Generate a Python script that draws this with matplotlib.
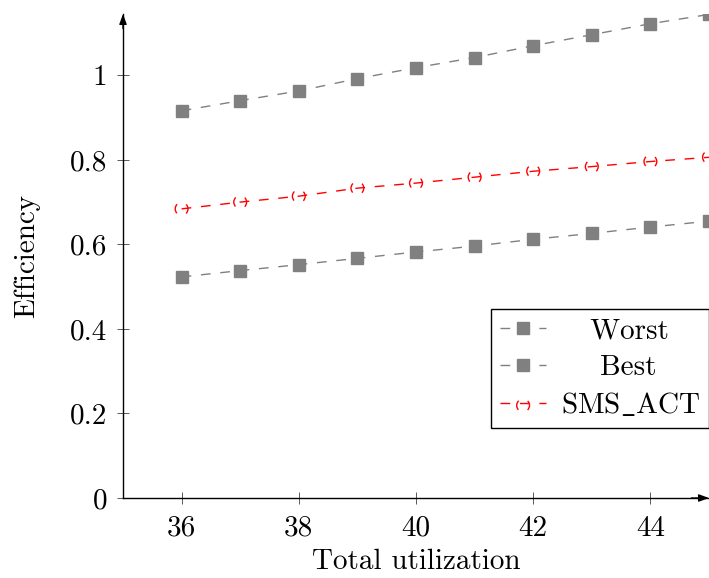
import numpy as np
import matplotlib
matplotlib.use('Agg')
import matplotlib.pyplot as plt
from matplotlib.legend_handler import HandlerTuple

# data
utilization = [36, 37, 38, 39, 40, 41, 42, 43, 44, 45]
worst = [0.916, 0.940, 0.963, 0.992, 1.018, 1.042, 1.070, 1.096, 1.122, 1.144]
best = [0.523, 0.538, 0.552, 0.567, 0.582, 0.596, 0.612, 0.626, 0.641, 0.655]
sms_act = [0.684, 0.700, 0.714, 0.733, 0.745, 0.759, 0.773, 0.784, 0.796, 0.806]

xticks = [36, 38, 40, 42, 44]
yticks = [0, 0.2, 0.4, 0.6, 0.8, 1]
ytick_labels = ['0', '0.2', '0.4', '0.6', '0.8', '1']

plt.rcParams['font.family'] = ['cmr10', 'DejaVu Serif']
plt.rcParams['mathtext.fontset'] = 'cm'
plt.rcParams['axes.formatter.use_mathtext'] = True

FS = 21
GRAY = '#808080'
RED = '#ff0000'
DASH = (0, (7, 7))

fig = plt.figure(figsize=(7.09, 5.78), dpi=100)
ax = fig.add_axes([123 / 709, 80 / 578, 586 / 709, 484 / 578])

l_worst, = ax.plot(utilization, worst, color=GRAY, lw=1.0, ls=DASH,
                   marker='s', ms=8.5, mfc=GRAY, mec=GRAY)
l_best, = ax.plot(utilization, best, color=GRAY, lw=1.0, ls=DASH,
                  marker='s', ms=8.5, mfc=GRAY, mec=GRAY)
l_sms, = ax.plot(utilization, sms_act, color=RED, lw=1.0, ls=DASH)
# open circles with a dashed outline, gaps at top and bottom
s_sms = ax.scatter(utilization, sms_act, s=85, marker='o',
                   facecolors='none', edgecolors=RED, linewidths=1.0,
                   zorder=3)
s_sms.set_linestyle((10.8, (7.2, 7.2)))

ax.set_xlim(35, 45)
ax.set_ylim(0, 1.145)
ax.set_xticks(xticks)
ax.set_xticklabels([str(t) for t in xticks])
ax.set_yticks(yticks)
ax.set_yticklabels(ytick_labels)
ax.tick_params(direction='inout', length=9, width=0.7, color='0.35',
               labelsize=FS)
ax.tick_params(axis='x', pad=8)
ax.tick_params(axis='y', pad=7)

for side in ['top', 'right']:
    ax.spines[side].set_visible(False)
for side in ['left', 'bottom']:
    ax.spines[side].set_linewidth(1.0)

# axis arrows
arrow = dict(arrowstyle='-|>,head_length=0.6,head_width=0.22',
             color='black', lw=1.0, shrinkA=0, shrinkB=0)
ax.annotate('', xy=(1.0, 0), xytext=(0.97, 0), xycoords='axes fraction',
            arrowprops=arrow, annotation_clip=False)
ax.annotate('', xy=(0, 1.0), xytext=(0, 0.97), xycoords='axes fraction',
            arrowprops=arrow, annotation_clip=False)

ax.set_xlabel('Total utilization', fontsize=FS, labelpad=5)
ax.set_ylabel('Efficiency', fontsize=FS, labelpad=21)

labels = ['   Worst   ', '    Best    ', r'SMS$\_$ACT']
leg = ax.legend([l_worst, l_best, (l_sms, s_sms)], labels,
                handler_map={tuple: HandlerTuple(ndivide=1)},
                loc='lower right', bbox_to_anchor=(1.0, 0.145),
                borderaxespad=0, fontsize=FS, fancybox=False,
                framealpha=1, edgecolor='black', handlelength=1.6,
                handletextpad=0.5, labelspacing=0.35, borderpad=0.3)
leg.get_frame().set_linewidth(1.0)

fig.savefig('out.png', dpi=100)
